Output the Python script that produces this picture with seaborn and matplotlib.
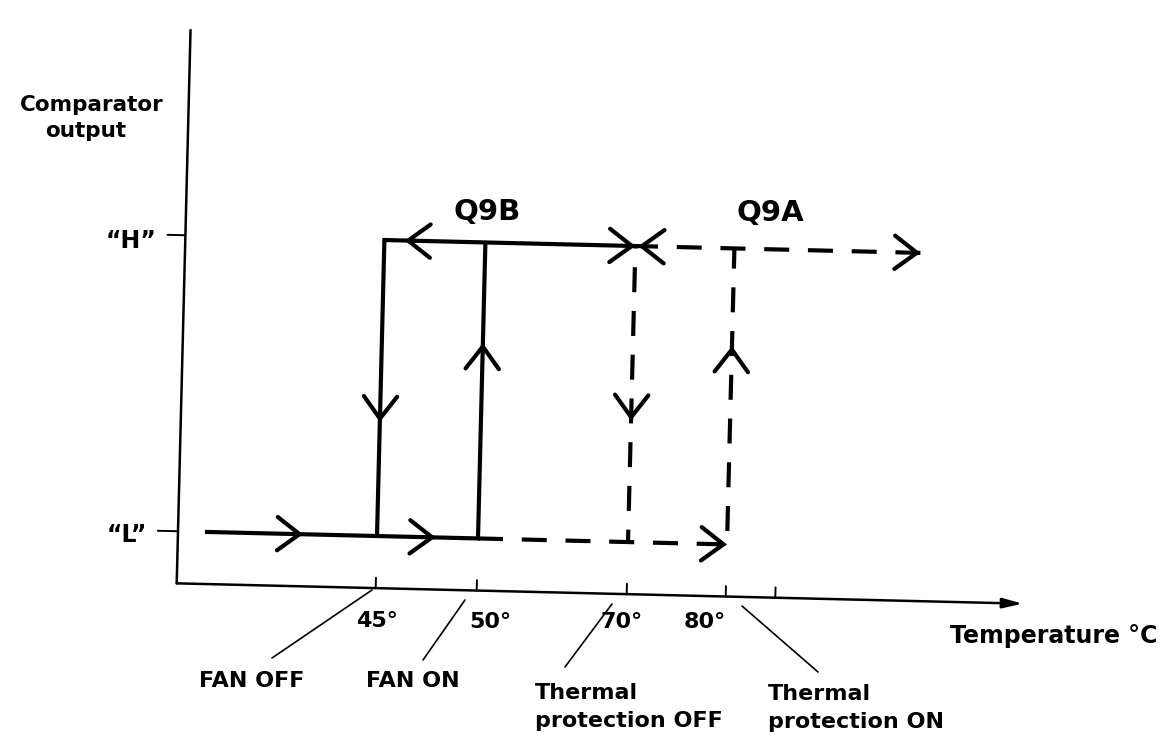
import numpy as np
import matplotlib
matplotlib.use("Agg")
import matplotlib.pyplot as plt
import matplotlib.patches as mpatches
import matplotlib.transforms as mtransforms
import seaborn as sns

# Temperatures marked on the axis (°C)
temps = [45, 50, 70, 80]
tick_labels = ["45°", "50°", "70°", "80°"]
extra_tick = 84
events = ["FAN OFF", "FAN ON", "Thermal\nprotection OFF", "Thermal\nprotection ON"]

# Comparator output levels
level_names = ["\u201cL\u201d", "\u201cH\u201d"]
level_values = [0, 1]

# Q9B (fan comparator) - solid loop
q9b_up_x = [35, 50, 50]
q9b_up_y = [0, 0, 1]
q9b_down_x = [70, 45, 45]
q9b_down_y = [1, 1, 0]

# Q9A (thermal protection comparator) - dashed loop
q9a_up_x = [50, 80, 80]
q9a_up_y = [0, 0, 1]
q9a_down_x = [95, 70, 70]
q9a_down_y = [1, 1, 0]

# arrow tips along the loops: (temperature, level, direction)
q9b_arrows = [(40.7, 0, "r"), (47.9, 0, "r"), (46, 1, "l"), (70, 1, "r"),
              (45, 0.385, "d"), (50, 0.66, "u")]
q9a_arrows = [(80, 0, "r"), (70.3, 1, "l"), (95, 1, "r"),
              (70, 0.41, "d"), (80, 0.67, "u")]

W, H = 1163, 743
sns.set_style("white")
plt.rcParams["font.family"] = ["DejaVu Sans"]

fig = plt.figure(figsize=(W / 100, H / 100), dpi=100)
ax = fig.add_axes([0, 0, 1, 1])

# hand drawn axis: uneven temperature spacing
T_anchor = [0, 30, 35, 45, 50, 70, 80, 95, 105, 130]
px_anchor = [0, 178, 205, 377, 478, 628, 727, 913, 1024, 1163]
fwd = lambda t: np.interp(t, T_anchor, px_anchor)
inv = lambda p: np.interp(p, px_anchor, T_anchor)
ax.set_xscale("function", functions=(fwd, inv))
ax.set_xlim(0, 130)
ax.set_ylim(-207 / 296, (H - 207) / 296)
ax.axis("off")

# slight skew of the sketch (lines drift down, verticals lean right)
kx, ky, Xref, Yref = 0.025, 0.024, 376, 207
skew = mtransforms.Affine2D(np.array([[1, kx, -kx * Yref],
                                      [-ky, 1, ky * Xref],
                                      [0, 0, 1]]))
trans = ax.transData + skew
img = mtransforms.Affine2D().scale(1, -1).translate(0, H)

lw = 3.0
solid = dict(color="black", lw=lw, solid_joinstyle="miter", solid_capstyle="butt")
dashed = dict(color="black", lw=lw, linestyle=(0, (6, 4.5)), dash_capstyle="butt")

for xs, ys in [(q9b_up_x, q9b_up_y), (q9b_down_x, q9b_down_y)]:
    sns.lineplot(x=xs, y=ys, sort=False, estimator=None, ax=ax, transform=trans, **solid)
for xs, ys in [(q9a_up_x, q9a_up_y), (q9a_down_x, q9a_down_y)]:
    sns.lineplot(x=xs, y=ys, sort=False, estimator=None, ax=ax, transform=trans, **dashed)

step = {"r": (-0.5, 0), "l": (0.5, 0), "u": (0, -0.02), "d": (0, 0.02)}
for x, y, d in q9b_arrows + q9a_arrows:
    dx, dy = step[d]
    ax.add_patch(mpatches.FancyArrowPatch(
        (x + dx, y + dy), (x, y), transform=trans,
        arrowstyle="->,head_length=16,head_width=12", mutation_scale=1,
        lw=lw, color="black", shrinkA=0, shrinkB=0, joinstyle="miter"))

# axes
y_axis_level = -0.176
ax.plot([30, 30], [y_axis_level, 1.693], color="black", lw=1.8, transform=trans)
ax.add_patch(mpatches.FancyArrowPatch(
    (30, y_axis_level), (105, y_axis_level), transform=trans,
    arrowstyle="-|>,head_length=12,head_width=3", mutation_scale=1,
    lw=1.8, color="black", shrinkA=0, shrinkB=0))
for lv, x0 in zip(level_values, [26.6, 27]):
    ax.plot([x0, 30], [lv, lv], color="black", lw=1.4, transform=trans)
for t in temps + [extra_tick]:
    ax.plot([t, t], [y_axis_level, y_axis_level + 0.035], color="black", lw=1.4, transform=trans)

font = dict(color="black", fontweight="bold")

# axis titles
ax.text(92, 105, "Comparator", ha="center", va="center", fontsize=15.5, transform=img, **font)
ax.text(86, 131, "output", ha="center", va="center", fontsize=15.5, transform=img, **font)
ax.text(950, 636, "Temperature °C", ha="left", va="center", fontsize=17, transform=img, **font)

for name, pos in zip(level_names, [(127, 535), (131, 241)]):
    ax.text(*pos, name, ha="center", va="center", fontsize=17, transform=img, **font)

ax.text(487, 212, "Q9B", ha="center", va="center", fontsize=21, transform=img, **font)
ax.text(770, 213, "Q9A", ha="center", va="center", fontsize=21, transform=img, **font)

for lab, pos in zip(tick_labels, [(377, 621), (490, 622), (622, 622), (705, 622)]):
    ax.text(*pos, lab, ha="center", va="center", fontsize=16, transform=img, **font)

# event labels with leader lines
ev_pos = [(252, 681, "center"), (413, 681, "center"), (535, 707, "left"), (768, 708, "left")]
leaders = [((372, 590), (272, 658)), ((465, 600), (423, 660)),
           ((612, 604), (565, 667)), ((742, 606), (818, 672))]
for ev, (x, y, ha), (p0, p1) in zip(events, ev_pos, leaders):
    ax.text(x, y, ev, ha=ha, va="center", fontsize=16, linespacing=1.45,
            multialignment="left", transform=img, **font)
    ax.plot([p0[0], p1[0]], [p0[1], p1[1]], color="black", lw=1.2, transform=img)

ax.set_xlim(0, 130)
ax.set_ylim(-207 / 296, (H - 207) / 296)
fig.savefig("out.png", dpi=100)
